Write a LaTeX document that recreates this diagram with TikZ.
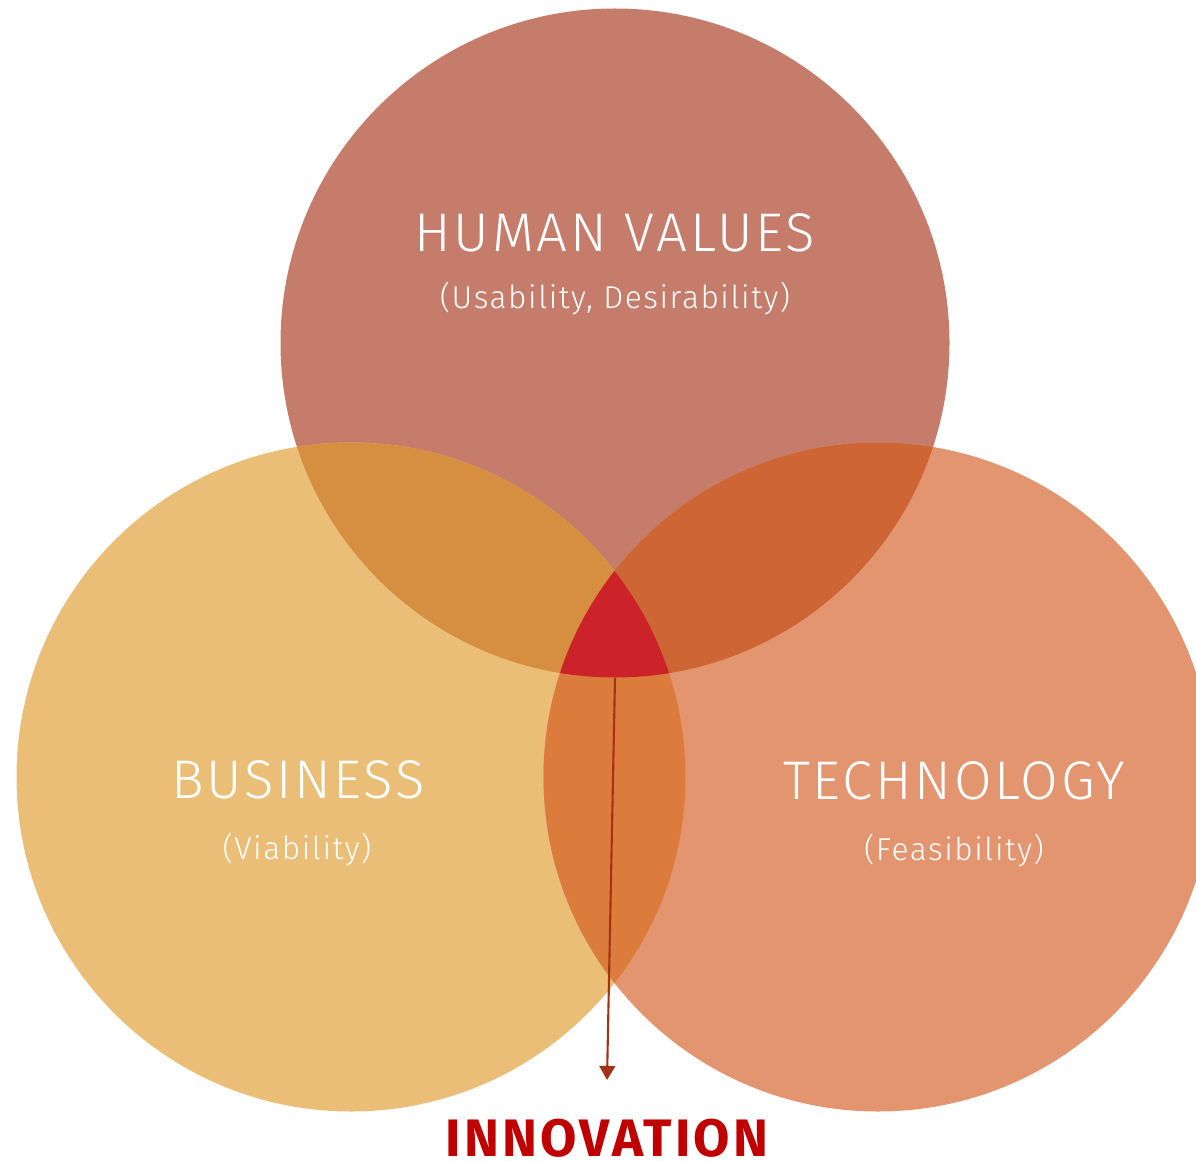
\documentclass[tikz,border=0pt]{standalone}
\usepackage{fontspec}
\setmainfont{Fira Sans}
\newfontfamily\lightfont{Fira Sans Light}[LetterSpace=5]
\newfontfamily\boldfont{Fira Sans Bold}[LetterSpace=6]
\usetikzlibrary{arrows.meta}
\definecolor{hvcol}{HTML}{C67C6A}
\definecolor{bzcol}{HTML}{EABE76}
\definecolor{tccol}{HTML}{E39570}
\definecolor{hbcol}{HTML}{D68F40}
\definecolor{htcol}{HTML}{CD6535}
\definecolor{btcol}{HTML}{DC7C3C}
\definecolor{corecol}{HTML}{CC2229}
\definecolor{arrowcol}{HTML}{A33218}
\definecolor{innocol}{HTML}{C00000}
\tikzset{
  title/.style={text=white, anchor=base, inner sep=0pt, font=\lightfont\fontsize{31}{31}\selectfont},
  subtitle/.style={text=white, anchor=base, inner sep=0pt, font=\lightfont\fontsize{18}{18}\selectfont}
}
\begin{document}
\begin{tikzpicture}[x=0.02cm, y=-0.02cm, >={Triangle[width=9pt,length=8pt]}, line join=round]
				\def\r{334.5}
				\useasboundingbox (0,0) rectangle (1196,1162);
				\coordinate (hv) at (615,343);
				\coordinate (bz) at (351,777);
				\coordinate (tc) at (878,777);
				% circles
				\fill[hvcol] (hv) circle (\r);
				\fill[bzcol] (bz) circle (\r);
				\fill[tccol] (tc) circle (\r);
				% overlaps
				\begin{scope}
					\clip (hv) circle (\r);
					\fill[hbcol] (bz) circle (\r);
					\fill[htcol] (tc) circle (\r);
				\end{scope}
				\begin{scope}
					\clip (bz) circle (\r);
					\fill[btcol] (tc) circle (\r);
				\end{scope}
				\begin{scope}
					\clip (hv) circle (\r);
					\clip (bz) circle (\r);
					\fill[corecol] (tc) circle (\r);
				\end{scope}
				% labels
				\node[title] (hvt) at (615,252) {HUMAN VALUES};
				\node[subtitle] (hvs) at (615,308) {(Usability, Desirability)};
				\node[title] (bzt) at (298,798) {BUSINESS};
				\node[subtitle] (bzs) at (297,859) {(Viability)};
				\node[title] (tct) at (954,799) {TECHNOLOGY};
				\node[subtitle] (tcs) at (954,860) {(Feasibility)};
				\node[anchor=base, inner sep=0pt, text=innocol, font=\boldfont\fontsize{30}{30}\selectfont] (inno) at (607,1156) {INNOVATION};
				% arrow
				\coordinate (core) at (615,678);
				\coordinate (tip) at (607,1080);
				\draw[->, arrowcol, line width=1.2pt] (core) -- (tip);
			\end{tikzpicture}
\end{document}
